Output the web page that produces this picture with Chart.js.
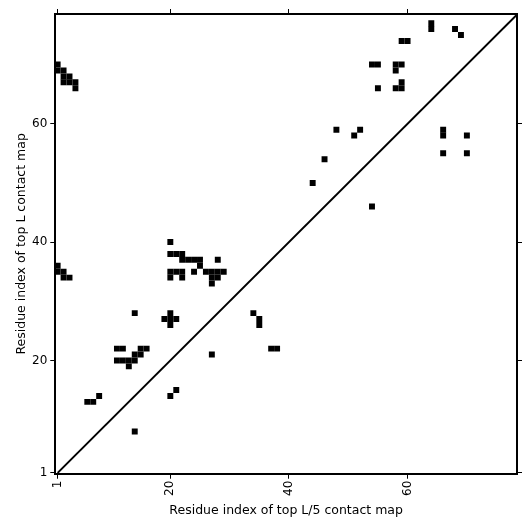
<!DOCTYPE html>
<html>
<head>
<meta charset="utf-8">
<script src="https://cdn.jsdelivr.net/npm/chart.js@4.4.1/dist/chart.umd.min.js"></script>
<style>
  html, body { margin: 0; padding: 0; background: #fff; }
  #wrap { width: 531px; height: 531px; }
</style>
</head>
<body>
<div id="wrap"><canvas id="contactMap" width="531" height="531"></canvas></div>
<script>
  // ---------- Data (residue pairs) ----------
  // contacts above the diagonal: [i, j] with j > i
  const upperPairs = [
    [1, 70], [1, 69], [2, 69], [2, 68], [3, 68], [2, 67], [3, 67], [4, 67], [4, 66],
    [1, 36], [1, 35], [2, 35], [2, 34], [3, 34],
    [20, 40], [20, 38], [21, 38], [22, 38], [22, 37], [23, 37], [24, 37], [25, 37], [25, 36], [28, 37],
    [20, 35], [21, 35], [22, 35], [24, 35], [26, 35], [27, 35], [28, 35], [29, 35],
    [20, 34], [22, 34], [27, 34], [28, 34], [27, 33],
    [14, 28], [20, 28], [19, 27], [20, 27], [21, 27], [20, 26],
    [11, 22], [12, 22], [15, 22], [16, 22], [14, 21], [15, 21],
    [11, 20], [12, 20], [13, 20], [14, 20], [13, 19],
    [8, 14], [6, 13], [7, 13],
    [48, 59], [52, 59], [51, 58], [46, 54], [44, 50],
    [64, 77], [64, 76], [68, 76], [69, 75], [59, 74], [60, 74],
    [54, 70], [55, 70], [58, 70], [59, 70], [58, 69], [59, 67], [58, 66], [59, 66], [55, 66]
  ];
  // contacts below the diagonal: [i, j] with j < i
  const lowerPairs = [
    [14, 8], [20, 14], [21, 15], [27, 21], [37, 22], [38, 22],
    [34, 28], [35, 27], [35, 26], [54, 46],
    [66, 59], [66, 58], [70, 58], [66, 55], [70, 55]
  ];
  const diagonalEnds = [1, 78.5];
  const tickValues = [1, 20, 40, 60];
  const axisMin = { x: 0.6, y: 0.85 };
  const axisMax = { x: 78.45, y: 78.55 };

  const xTitle = "Residue index of top L/5 contact map";
  const yTitle = "Residue index of top L contact map";

  // ---------- Helpers ----------
  const toPoints = (pairs) => pairs.map(([i, j]) => ({ x: i, y: j }));
  const fixedTicks = (scale) => { scale.ticks = tickValues.map(v => ({ value: v })); };

  // one cell wide square, sized from the x scale
  const cellRadius = (ctx) => {
    const s = ctx.chart.scales.x;
    if (!s) return 3;
    const w = Math.abs(s.getPixelForValue(1) - s.getPixelForValue(0));
    return w / (2 * Math.SQRT1_2);
  };

  const font = { family: "'DejaVu Sans', sans-serif", size: 12 };
  const titleFont = { family: "'DejaVu Sans', sans-serif", size: 12.5 };
  const gridOpts = { display: true, drawOnChartArea: false, drawTicks: true, tickLength: 5, color: "#000", tickWidth: 1 };
  const borderOpts = { display: true, color: "#000", width: 2 };

  const cellDataset = (label, pairs) => ({
    type: "scatter",
    label,
    data: toPoints(pairs),
    pointStyle: "rect",
    pointRadius: cellRadius,
    pointHoverRadius: cellRadius,
    pointBackgroundColor: "#000",
    pointBorderWidth: 0,
    order: 2,
  });

  new Chart(document.getElementById("contactMap"), {
    type: "scatter",
    data: {
      datasets: [
        cellDataset("top L", upperPairs),
        cellDataset("top L/5", lowerPairs),
        {
          type: "line",
          label: "diagonal",
          data: diagonalEnds.map(v => ({ x: v, y: v })),
          borderColor: "#000",
          borderWidth: 2,
          pointRadius: 0,
          fill: false,
          order: 1,
        },
      ],
    },
    options: {
      responsive: false,
      animation: false,
      events: [],
      layout: { padding: { left: 14, right: 9, top: 9, bottom: 13 } },
      plugins: { legend: { display: false }, tooltip: { enabled: false } },
      scales: {
        x: {
          type: "linear", position: "bottom",
          min: axisMin.x, max: axisMax.x,
          afterBuildTicks: fixedTicks,
          ticks: { color: "#000", font, minRotation: 90, maxRotation: 90, padding: 2, autoSkip: false },
          grid: gridOpts, border: borderOpts,
          title: { display: true, text: xTitle, color: "#000", font: titleFont, padding: { top: 5, bottom: 0 } },
        },
        x2: {
          type: "linear", position: "top",
          min: axisMin.x, max: axisMax.x,
          afterBuildTicks: fixedTicks,
          ticks: { display: false },
          grid: gridOpts, border: borderOpts,
        },
        y: {
          type: "linear", position: "left",
          min: axisMin.y, max: axisMax.y,
          afterBuildTicks: fixedTicks,
          ticks: { color: "#000", font, padding: 3, autoSkip: false },
          grid: gridOpts, border: borderOpts,
          title: { display: true, text: yTitle, color: "#000", font: titleFont, padding: { top: 0, bottom: 0 } },
        },
        y2: {
          type: "linear", position: "right",
          min: axisMin.y, max: axisMax.y,
          afterBuildTicks: fixedTicks,
          ticks: { display: false },
          grid: gridOpts, border: borderOpts,
        },
      },
    },
  });
</script>
</body>
</html>
